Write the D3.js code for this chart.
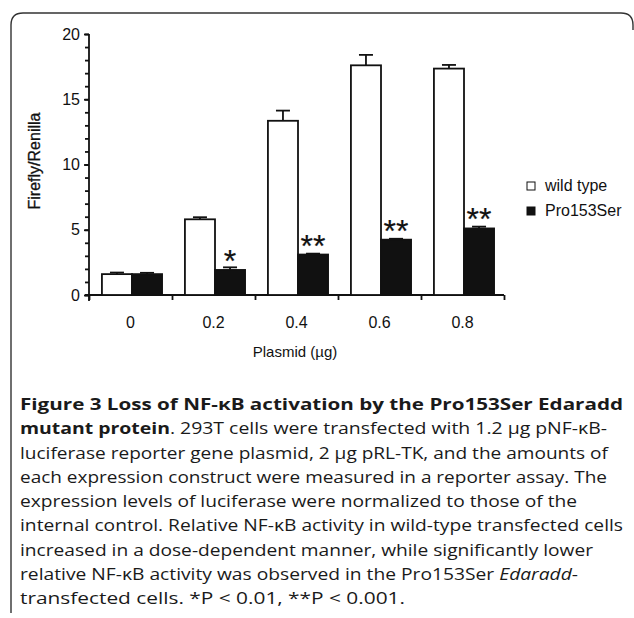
<!DOCTYPE html>
<html>
<head>
<meta charset="utf-8">
<script src="https://cdn.jsdelivr.net/npm/d3@7"></script>
<style>
  body { margin: 0; background: #fff; }
  svg { display: block; }
  .chart text { font-family: "Liberation Sans", Arial, sans-serif; fill: #111; }
  .caption text { font-family: "Open Sans", "Noto Sans", sans-serif; fill: #1a1a1a; }
</style>
</head>
<body>
<svg id="fig" width="634" height="618"></svg>
<script>
// Data
const categories = ['0', '0.2', '0.4', '0.6', '0.8'];
const seriesNames = ['wild type', 'Pro153Ser'];
const wildType = [1.6, 5.8, 13.35, 17.6, 17.35];
const wildTypeErr = [0.12, 0.16, 0.78, 0.8, 0.28];
const pro153Ser = [1.6, 1.92, 3.1, 4.24, 5.1];
const pro153SerErr = [0.1, 0.2, 0.07, 0.07, 0.14];
const stars = ['', '*', '**', '**', '**'];
const majorTicks = [0, 5, 10, 15, 20];
const minorTicks = d3.range(0, 21, 1);

// Caption lines, each line is a list of [text, style] runs
const captionLines = [
  [['Figure 3 Loss of NF-\u03BAB activation by the Pro153Ser Edaradd', 'b']],
  [['mutant protein', 'b'], ['. 293T cells were transfected with 1.2 \u00B5g pNF-\u03BAB-', 'n']],
  [['luciferase reporter gene plasmid, 2 \u00B5g pRL-TK, and the amounts of', 'n']],
  [['each expression construct were measured in a reporter assay. The', 'n']],
  [['expression levels of luciferase were normalized to those of the', 'n']],
  [['internal control. Relative NF-\u03BAB activity in wild-type transfected cells', 'n']],
  [['increased in a dose-dependent manner, while significantly lower', 'n']],
  [['relative NF-\u03BAB activity was observed in the Pro153Ser ', 'n'], ['Edaradd', 'i'], ['-', 'n']],
  [['transfected cells. *P < 0.01, **P < 0.001.', 'n']],
];
// right ends of the lines as seen in the figure
const captionEnds = [623, 607, 608, 607, 577, 623, 593, 578, 405];

const svg = d3.select('#fig');

// //////////////////////////////////////////////////////////////////////////
// Frame (open at the bottom and right, as in the scan)
svg.append('path')
  .attr('d', 'M11,613 V25 Q11,13 23,13 H621 Q633,13 633,25 V30')
  .attr('fill', 'none')
  .attr('stroke', '#333')
  .attr('stroke-width', 1.4);

// //////////////////////////////////////////////////////////////////////////
// Scales
const plot = { left: 89, right: 504, top: 34, bottom: 295 };

const y = d3.scaleLinear().domain([0, 20]).range([plot.bottom, plot.top]);
const x0 = d3.scaleBand().domain(categories).range([plot.left, plot.right]);
const x1 = d3.scaleBand().domain(seriesNames)
  .range([1.5, x0.bandwidth() + 1.5])
  .paddingInner(0)
  .paddingOuter(0.38);

const g = svg.append('g').attr('class', 'chart');

// Y axis: minor ticks every 1, labelled ticks every 5
g.append('g')
  .attr('transform', `translate(${plot.left},0)`)
  .call(d3.axisLeft(y).tickValues(minorTicks).tickSize(4).tickFormat(''))
  .call((a) => a.select('.domain').remove());

g.append('g')
  .attr('transform', `translate(${plot.left},0)`)
  .call(d3.axisLeft(y).tickValues(majorTicks).tickSize(5).tickPadding(4).tickSizeOuter(0))
  .call((a) => a.select('.domain').attr('d', `M0,${plot.top}V${plot.bottom + 6}`))
  .call((a) => a.selectAll('text').style('font-size', '16px'));

// X axis: ticks sit on the group boundaries
const xb = d3.scaleLinear().domain([0, categories.length]).range([plot.left, plot.right]);
g.append('g')
  .attr('transform', `translate(0,${plot.bottom})`)
  .call(d3.axisBottom(xb).ticks(categories.length).tickSize(5).tickFormat('').tickSizeOuter(0))
  .call((a) => a.select('.domain').attr('d', `M${plot.left - 4},0H${plot.right}`));

g.append('g')
  .attr('transform', `translate(0,${plot.bottom})`)
  .call(d3.axisBottom(x0).tickSize(0).tickPadding(22))
  .call((a) => a.select('.domain').remove())
  .call((a) => a.selectAll('text').style('font-size', '16px'));

g.selectAll('.domain, .tick line').attr('stroke', '#111').attr('stroke-width', 1.8);

// Axis titles
g.append('text')
  .attr('transform', 'translate(40,161) rotate(-90)')
  .attr('text-anchor', 'middle')
  .style('font-size', '16px')
  .style('stroke', '#111')
  .style('stroke-width', 0.3)
  .text('Firefly/Renilla');

g.append('text')
  .attr('x', 295)
  .attr('y', 357)
  .attr('text-anchor', 'middle')
  .style('font-size', '15px')
  .text('Plasmid (\u00B5g)');

// //////////////////////////////////////////////////////////////////////////
// Bars with upward error bars
const rows = categories.map((c, i) => ({
  cat: c,
  star: stars[i],
  values: [
    { key: seriesNames[0], v: wildType[i], e: wildTypeErr[i], fill: '#fff' },
    { key: seriesNames[1], v: pro153Ser[i], e: pro153SerErr[i], fill: '#111' },
  ],
}));

const groups = g.selectAll('.grp')
  .data(rows)
  .enter()
  .append('g')
  .attr('class', 'grp')
  .attr('transform', (d) => `translate(${x0(d.cat)},0)`);

const bars = groups.selectAll('.bar')
  .data((d) => d.values)
  .enter()
  .append('g')
  .attr('class', 'bar');

bars.append('line')
  .attr('x1', (d) => x1(d.key) + x1.bandwidth() / 2)
  .attr('x2', (d) => x1(d.key) + x1.bandwidth() / 2)
  .attr('y1', (d) => y(d.v))
  .attr('y2', (d) => y(d.v + d.e))
  .attr('stroke', '#111')
  .attr('stroke-width', 1.8);

bars.append('line')
  .attr('x1', (d) => x1(d.key) + x1.bandwidth() / 2 - 7)
  .attr('x2', (d) => x1(d.key) + x1.bandwidth() / 2 + 7)
  .attr('y1', (d) => y(d.v + d.e))
  .attr('y2', (d) => y(d.v + d.e))
  .attr('stroke', '#111')
  .attr('stroke-width', 1.8);

bars.append('rect')
  .attr('x', (d) => x1(d.key))
  .attr('y', (d) => y(d.v))
  .attr('width', x1.bandwidth())
  .attr('height', (d) => y(0) - y(d.v))
  .attr('fill', (d) => d.fill)
  .attr('stroke', '#111')
  .attr('stroke-width', 1.8);

// Significance stars above the mutant bars
groups.append('text')
  .attr('x', x1(seriesNames[1]) + x1.bandwidth() / 2)
  .attr('y', (d) => y(d.values[1].v) + 2)
  .attr('text-anchor', 'middle')
  .style('font-size', '32px')
  .style('stroke', '#111')
  .style('stroke-width', 0.2)
  .text((d) => d.star);

// //////////////////////////////////////////////////////////////////////////
// Legend
const legend = g.append('g').attr('transform', 'translate(527,182)');
const legendItems = legend.selectAll('g')
  .data(seriesNames)
  .enter()
  .append('g')
  .attr('transform', (d, i) => `translate(0,${i * 25})`);

legendItems.append('rect')
  .attr('width', 8)
  .attr('height', 8)
  .attr('fill', (d, i) => (i === 0 ? '#fff' : '#111'))
  .attr('stroke', '#111')
  .attr('stroke-width', 1);

legendItems.append('text')
  .attr('x', 18)
  .attr('y', 9)
  .style('font-size', '16px')
  .text((d) => d);

// //////////////////////////////////////////////////////////////////////////
// Caption
const cap = svg.append('g').attr('class', 'caption');
captionLines.forEach((runs, i) => {
  const t = cap.append('text')
    .attr('x', 20)
    .attr('y', 410 + i * 24.25)
    .style('font-size', '16px');
  runs.forEach(([txt, st]) => {
    t.append('tspan')
      .style('font-weight', st === 'b' ? 700 : 400)
      .style('font-style', st === 'i' ? 'italic' : 'normal')
      .text(txt);
  });
  t.attr('textLength', captionEnds[i] - 20).attr('lengthAdjust', 'spacingAndGlyphs');
});
</script>
</body>
</html>
